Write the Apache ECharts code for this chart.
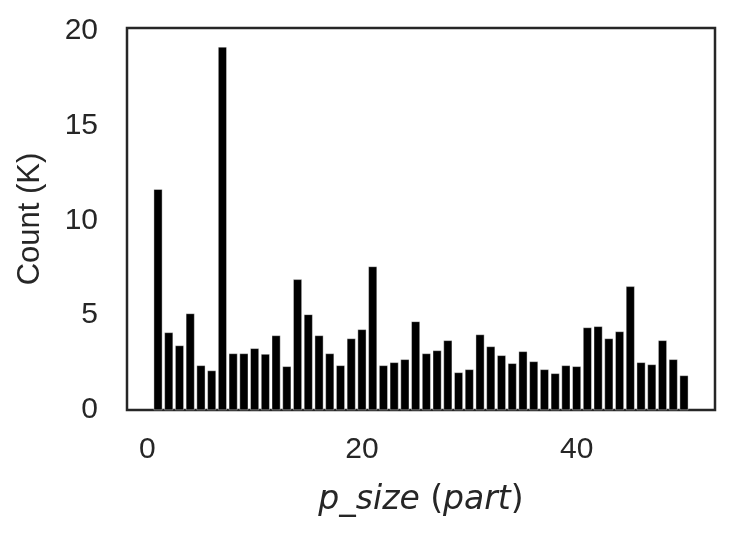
<!DOCTYPE html>
<html>
<head>
<meta charset="utf-8">
<script src="https://cdn.jsdelivr.net/npm/echarts@6/dist/echarts.min.js"></script>
<style>html,body{margin:0;padding:0;background:#fff}#c{width:741px;height:537px}</style>
</head>
<body>
<div id="c"></div>
<script>
const pSize = [1,2,3,4,5,6,7,8,9,10,11,12,13,14,15,16,17,18,19,20,21,22,23,24,25,26,27,28,29,30,31,32,33,34,35,36,37,38,39,40,41,42,43,44,45,46,47,48,49,50];
const countK = [11.64,4.09,3.40,5.09,2.35,2.08,19.15,2.98,2.98,3.25,2.95,3.93,2.30,6.89,5.04,3.93,2.98,2.35,3.77,4.25,7.57,2.35,2.51,2.67,4.67,2.98,3.14,3.67,1.98,2.14,3.98,3.35,2.88,2.46,3.09,2.56,2.14,1.93,2.35,2.30,4.35,4.41,3.77,4.14,6.52,2.51,2.40,3.67,2.67,1.82];
const xTicks = [0,20,40];
const yTicks = [0,5,10,15,20];

const chart = echarts.init(document.getElementById('c'), null, {renderer:'canvas'});
const textColor = '#262626';
chart.setOption({
  animation: false,
  backgroundColor: '#fff',
  grid: {left:127, right:26, top:28, bottom:127, containLabel:false, outerBoundsMode:'none',
         show:true, borderColor:'#262626', borderWidth:2.5, backgroundColor:'transparent'},
  xAxis: {
    type:'value', min:-1.89, max:52.89,
    axisLine:{show:false}, axisTick:{show:false}, splitLine:{show:false},
    axisLabel:{customValues:xTicks, color:textColor, fontFamily:'Liberation Sans', fontSize:30, margin:25},
    name:'{i|p_size}{n| (}{i|part}{n|)}',
    nameLocation:'middle', nameGap:74,
    nameTextStyle:{rich:{
      i:{fontFamily:'DejaVu Sans', fontStyle:'italic', fontSize:33, color:textColor},
      n:{fontFamily:'DejaVu Sans', fontSize:33, color:textColor, whiteSpace:'pre'}
    }}
  },
  yAxis: {
    type:'value', min:0, max:20.15,
    axisLine:{show:false}, axisTick:{show:false}, splitLine:{show:false},
    axisLabel:{customValues:yTicks, color:textColor, fontFamily:'Liberation Sans', fontSize:30, margin:29},
    name:'Count (K)', nameLocation:'middle', nameGap:81,
    nameTextStyle:{fontFamily:'Liberation Sans', fontSize:31, color:textColor}
  },
  series: [{
    type:'bar',
    data: pSize.map((x,i)=>[x,countK[i]]),
    barWidth: 8.6,
    itemStyle:{color:'#000', borderColor:'#fff', borderWidth:0.4}
  }]
});
</script>
</body>
</html>
